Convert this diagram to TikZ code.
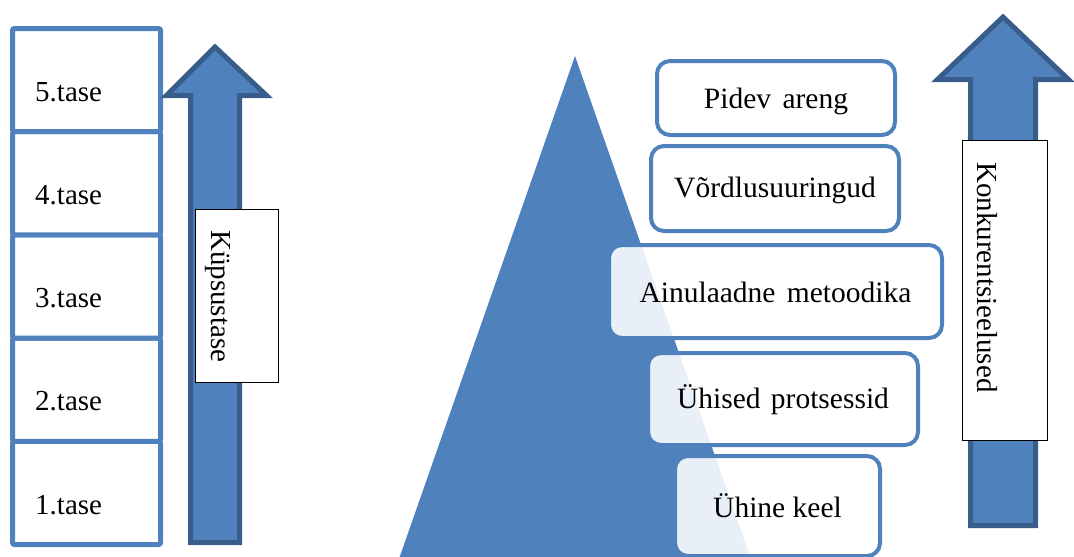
\documentclass[tikz,border=0pt]{standalone}
\usepackage{fontspec}
\setmainfont{Liberation Serif}
\definecolor{accent}{HTML}{4F81BD}
\definecolor{accentdark}{HTML}{385D8A}
\begin{document}
\begin{tikzpicture}[x=1pt,y=-1pt,
  lvlbox/.style={draw=accent, line width=5pt, fill=white, rounded corners=2pt,
    minimum width=148pt, minimum height=103.2pt, inner sep=0pt},
  lvltext/.style={anchor=base west, inner sep=0pt, font=\fontsize{29}{34}\selectfont},
  rbox/.style={draw=accent, line width=4pt, fill=white, fill opacity=0.875,
    rounded corners=13pt, inner sep=0pt},
  rtext/.style={anchor=base, inner sep=0pt, font=\fontsize{29.5}{34}\selectfont},
  vtext/.style={anchor=base west, rotate=-90, inner sep=0pt, font=\fontsize{29}{34}\selectfont},
  tagbox/.style={draw=black, line width=1pt, fill=white, inner sep=0pt},
  bigarrow/.style={fill=accent, draw=accentdark, line width=5pt, line join=miter}
]
\useasboundingbox (0,0) rectangle (1074,557);

% left stack of levels
\node[lvlbox] (b1) at (86.5,492.9) {};
\node[lvlbox] (b2) at (86.5,389.7) {};
\node[lvlbox] (b3) at (86.5,286.5) {};
\node[lvlbox] (b4) at (86.5,183.3) {};
\node[lvlbox] (b5) at (86.5,80.1) {};
\node[lvltext] (t5) at (35,101) {5.tase};
\node[lvltext] (t4) at (35,204) {4.tase};
\node[lvltext] (t3) at (35,307) {3.tase};
\node[lvltext] (t2) at (35,410.5) {2.tase};
\node[lvltext] (t1) at (35,514.5) {1.tase};

% left arrow
\draw[bigarrow] (215,47) -- (166.5,95.5) -- (190.5,95.5) -- (190.5,542.5)
  -- (239.5,542.5) -- (239.5,95.5) -- (266.5,95.5) -- cycle;
\node[tagbox, minimum width=83pt, minimum height=173pt] (kbox) at (237,296) {};
\node[vtext] (ktext) at (211,230) {Küpsustase};

% pyramid
\fill[accent] (575,56) -- (397.9,562) -- (752.1,562) -- cycle;

% stacked rounded boxes
\node[rbox, minimum width=238pt, minimum height=74pt] (r5) at (776,98) {};
\node[rbox, minimum width=248pt, minimum height=85pt] (r4) at (775,188.5) {};
\node[rbox, minimum width=333pt, minimum height=93pt] (r3) at (775.5,291.5) {};
\node[rbox, minimum width=270pt, minimum height=92pt] (r2) at (783,399) {};
\node[rbox, minimum width=205pt, minimum height=100pt] (r1) at (777.5,506) {};
\node[rtext] (l5) at (776,108) {Pidev\hspace{4pt} areng};
\node[rtext] (l4) at (775,197) {Võrdlusuuringud};
\node[rtext] (l3) at (775.5,302) {Ainulaadne\hspace{4pt} metoodika};
\node[rtext] (l2) at (783,408) {Ühised\hspace{3pt} protsessid};
\node[rtext] (l1) at (777.5,517) {Ühine keel};

% right arrow
\draw[bigarrow] (1003,17) -- (937.5,79.5) -- (970.5,79.5) -- (970.5,525.5)
  -- (1035.5,525.5) -- (1035.5,79.5) -- (1068.5,79.5) -- cycle;
\node[tagbox, minimum width=85pt, minimum height=300pt] (cbox) at (1005,290.5) {};
\node[vtext] (ctext) at (977,162) {Konkurentsieelused};
\end{tikzpicture}
\end{document}
